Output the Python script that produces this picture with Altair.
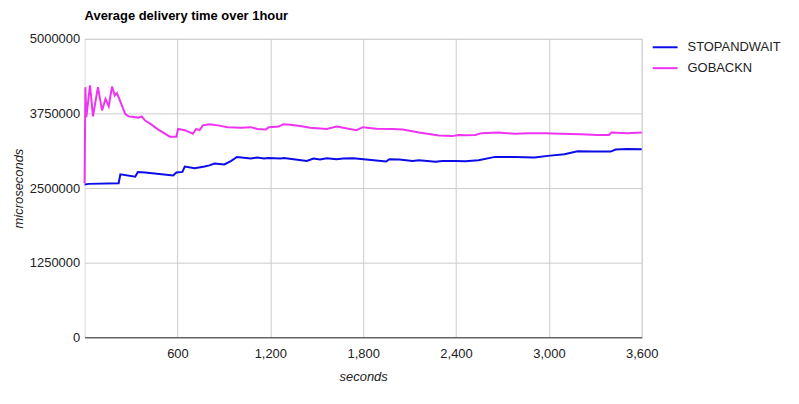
import altair as alt
import pandas as pd

# ---- data ----
saw_t = [0, 28, 220, 231, 327, 344, 391, 572, 593, 632, 647, 711, 775, 807, 839, 903,
         945, 984, 1073, 1116, 1159, 1185, 1266, 1287, 1351, 1436, 1479, 1521, 1564,
         1628, 1671, 1735, 1820, 1948, 1969, 2033, 2119, 2161, 2268, 2311, 2396, 2460,
         2545, 2652, 2780, 2908, 2993, 3100, 3185, 3292, 3399, 3431, 3505, 3600]
saw_v = [2560000, 2570000, 2580000, 2730000, 2690000, 2770000, 2760000, 2710000, 2760000,
         2770000, 2860000, 2830000, 2860000, 2880000, 2910000, 2895000, 2950000, 3020000,
         2995000, 3010000, 2995000, 3005000, 2995000, 3005000, 2983000, 2955000, 2995000,
         2978000, 3000000, 2983000, 2995000, 3000000, 2978000, 2945000, 2983000, 2978000,
         2955000, 2967000, 2940000, 2955000, 2955000, 2950000, 2967000, 3022000, 3022000,
         3011000, 3039000, 3067000, 3117000, 3111000, 3111000, 3145000, 3155000, 3150000]

gbn_t = [0, 5, 11, 35, 54, 86, 113, 135, 156, 177, 195, 209, 263, 284, 348, 369, 391,
         423, 476, 551, 593, 604, 647, 700, 721, 743, 764, 807, 860, 924, 1009, 1073,
         1116, 1169, 1191, 1255, 1283, 1329, 1393, 1457, 1564, 1628, 1671, 1756, 1799,
         1884, 1991, 2055, 2161, 2289, 2375, 2417, 2460, 2524, 2567, 2673, 2780, 2865,
         2972, 3079, 3207, 3313, 3388, 3403, 3505, 3600]
gbn_v = [2580000, 4190000, 3690000, 4220000, 3700000, 4190000, 3800000, 3995000, 3870000,
         4200000, 4050000, 4090000, 3740000, 3700000, 3680000, 3700000, 3630000, 3580000,
         3480000, 3360000, 3360000, 3490000, 3470000, 3410000, 3490000, 3470000, 3550000,
         3570000, 3550000, 3520000, 3510000, 3520000, 3490000, 3480000, 3520000, 3530000,
         3570000, 3560000, 3540000, 3510000, 3490000, 3530000, 3510000, 3470000, 3520000,
         3495000, 3490000, 3480000, 3430000, 3380000, 3370000, 3390000, 3383000, 3390000,
         3420000, 3430000, 3410000, 3417000, 3420000, 3410000, 3400000, 3390000, 3390000,
         3430000, 3420000, 3430000]

series = ["STOPANDWAIT", "GOBACKN"]
colors = ["#0c0ce6", "#ee33f2"]
x_ticks = [600, 1200, 1800, 2400, 3000, 3600]
y_ticks = [0, 1250000, 2500000, 3750000, 5000000]

df = pd.concat([
    pd.DataFrame({"t": saw_t, "v": saw_v, "s": series[0], "o": 0}),
    pd.DataFrame({"t": gbn_t, "v": gbn_v, "s": series[1], "o": 1}),
])

FONT = "Liberation Sans"

chart = alt.Chart(df).mark_line(strokeWidth=2, interpolate="linear").encode(
    x=alt.X("t:Q",
            scale=alt.Scale(domain=[0, 3600], nice=False, zero=False),
            axis=alt.Axis(values=x_ticks, format=",d", title="seconds",
                          grid=True, gridColor="#cccccc", ticks=False,
                          domain=True, domainColor="#333333", domainWidth=1,
                          labelFlush=False,
                          labelPadding=10, labelFont=FONT, labelFontSize=13,
                          labelColor="#222222", titleFont=FONT, titleFontSize=13,
                          titleFontStyle="italic", titleFontWeight="normal",
                          titleColor="#222222", titlePadding=10)),
    y=alt.Y("v:Q",
            scale=alt.Scale(domain=[0, 5000000], nice=False),
            axis=alt.Axis(values=y_ticks, format="d", title="microseconds",
                          grid=True, gridColor="#cccccc", ticks=False, domain=False,
                          labelFlush=False,
                          labelPadding=5, labelFont=FONT, labelFontSize=13,
                          labelColor="#222222", titleFont=FONT, titleFontSize=13,
                          titleFontStyle="italic", titleFontWeight="normal",
                          titleColor="#222222", titlePadding=4)),
    color=alt.Color("s:N",
                    scale=alt.Scale(domain=series, range=colors),
                    legend=alt.Legend(title=None, orient="none", legendX=570, legendY=-5,
                                      symbolType="stroke", symbolSize=625,
                                      symbolStrokeWidth=2, labelFont=FONT,
                                      labelFontSize=13, labelColor="#222222",
                                      labelOffset=9, rowPadding=0)),
    order="o:Q",
    detail="s:N",
).properties(
    width=560,
    height=300,
    title=alt.TitleParams(text="Average delivery time over 1hour", anchor="start",
                          frame="group", font=FONT, fontSize=13, fontWeight="bold",
                          color="#000000", offset=10),
    autosize=alt.AutoSizeParams(type="none"),
    padding={"left": 77, "top": 30, "right": 150, "bottom": 50},
).configure_view(
    fill="#f0f0f0", strokeWidth=0
).configure(background="#ffffff")

chart.save("out.html", embed_options={"renderer": "svg", "actions": False})
